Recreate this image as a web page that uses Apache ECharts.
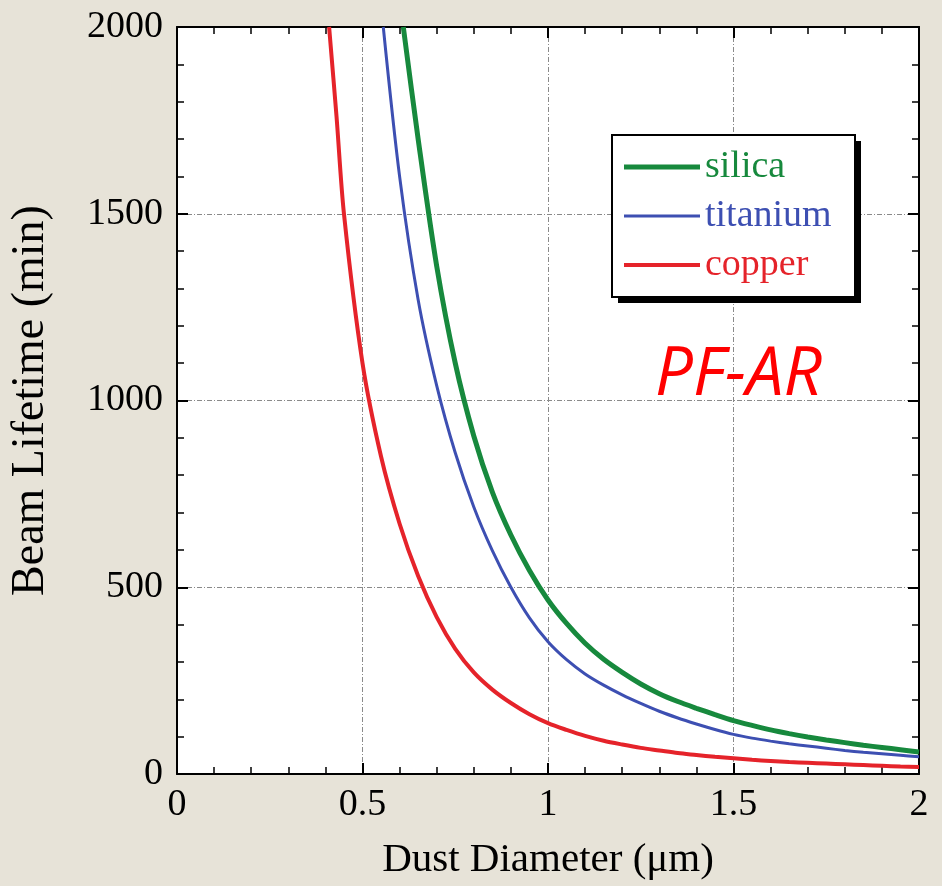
<!DOCTYPE html>
<html>
<head>
<meta charset="utf-8">
<script src="https://cdn.jsdelivr.net/npm/echarts@6/dist/echarts.min.js"></script>
<style>
  html, body { margin: 0; padding: 0; background: #e7e3d8; }
  #chart { width: 942px; height: 886px; }
</style>
</head>
<body>
<div id="chart"></div>
<script>
// values (dust diameter in um, lifetime in min)
const silicaX = [0.61, 0.65, 0.7, 0.75, 0.8, 0.85, 0.9, 0.95, 1.0, 1.05, 1.1, 1.15, 1.2, 1.25, 1.3, 1.35, 1.4, 1.45, 1.5, 1.55, 1.6, 1.65, 1.7, 1.75, 1.8, 1.85, 1.9, 1.95, 2.0];
const silicaY = [2000, 1700, 1360, 1100, 905, 755, 640, 545, 466, 403, 350, 307, 272, 241, 215, 194, 176, 159, 143, 130, 118, 108, 99, 91, 84, 77, 71, 65, 59];

const titaniumX = [0.556, 0.6, 0.65, 0.7, 0.75, 0.8, 0.85, 0.9, 0.95, 1.0, 1.05, 1.1, 1.15, 1.2, 1.25, 1.3, 1.35, 1.4, 1.45, 1.5, 1.55, 1.6, 1.65, 1.7, 1.75, 1.8, 1.85, 1.9, 1.95, 2.0];
const titaniumY = [2000, 1600, 1270, 1040, 860, 715, 598, 500, 418, 354, 306, 268, 238, 212, 189, 168, 150, 134, 119, 106, 96, 88, 81, 75, 69, 63, 58, 54, 50, 46];

const copperX = [0.41, 0.43, 0.45, 0.5, 0.55, 0.6, 0.65, 0.7, 0.75, 0.8, 0.85, 0.9, 0.95, 1.0, 1.05, 1.1, 1.15, 1.2, 1.25, 1.3, 1.35, 1.4, 1.45, 1.5, 1.55, 1.6, 1.65, 1.7, 1.75, 1.8, 1.85, 1.9, 1.95, 2.0];
const copperY = [2000, 1760, 1500, 1100, 850, 670, 530, 420, 335, 272, 226, 190, 160, 136, 118, 102, 89, 79, 70, 63, 56, 51, 46, 42, 38, 35, 32, 30, 28, 26, 24, 22, 20, 19];

const xTicks = [0, 0.5, 1, 1.5, 2];
const yTicks = [0, 500, 1000, 1500, 2000];

const seriesNames = ['silica', 'titanium', 'copper'];
const seriesColors = ['#17893d', '#3d4fb2', '#e5232a'];
const seriesWidths = [5, 3, 4];

const serif = '"Liberation Serif", "DejaVu Serif", serif';

const pairs = (xs, ys) => xs.map((x, i) => [x, ys[i]]);

const chart = echarts.init(document.getElementById('chart'));

const gridLine = {
  show: true,
  lineStyle: { color: '#8a8a8a', width: 1, type: [5, 2, 1, 2] },
};

const baseAxis = {
  axisLine: { show: true, onZero: false, lineStyle: { color: '#000', width: 2 } },
  axisTick: { show: true, inside: true, length: 11, lineStyle: { color: '#000', width: 2 } },
  minorTick: { show: true, splitNumber: 5, length: 7, lineStyle: { color: '#000', width: 1.5 } },
  axisLabel: { color: '#000', fontFamily: serif, fontSize: 38, formatter: (v) => String(v) },
};

// legend frame: black drop shadow + white box
const box = { x: 612, y: 135, w: 243, h: 162 };

chart.setOption({
  backgroundColor: '#e7e3d8',
  animation: false,
  grid: { left: 171, right: 23, top: 27, bottom: 112, backgroundColor: '#fff', show: true, borderWidth: 0 },
  title: {
    text: 'PF-AR',
    left: 650,
    top: 337,
    textStyle: { color: '#ff0000', fontFamily: '"Open Sans", "Liberation Sans", sans-serif', fontStyle: 'italic', fontWeight: 'normal', fontSize: 67 },
  },
  graphic: [
    { type: 'rect', z: 10, shape: { x: box.x + 6, y: box.y + 6, width: box.w, height: box.h }, style: { fill: '#000' } },
    { type: 'rect', z: 11, shape: { x: box.x, y: box.y, width: box.w, height: box.h }, style: { fill: '#fff', stroke: '#000', lineWidth: 2 } },
  ],
  legend: {
    orient: 'vertical',
    left: 612,
    top: 135,
    z: 12,
    padding: [13, 22, 13, 12],
    itemWidth: 76,
    itemHeight: 14,
    itemGap: 11,
    textStyle: { fontFamily: serif, fontSize: 38, lineHeight: 38 },
    data: seriesNames.map((n, i) => ({
      name: n,
      icon: 'path://M0,0L76,0L76,' + seriesWidths[i] + 'L0,' + seriesWidths[i] + 'Z',
      itemStyle: { color: seriesColors[i] },
      textStyle: { color: seriesColors[i] },
    })),
  },
  xAxis: [
    {
      ...baseAxis,
      type: 'value',
      min: xTicks[0],
      max: xTicks[xTicks.length - 1],
      interval: 0.5,
      position: 'bottom',
      axisLabel: { ...baseAxis.axisLabel, margin: 12 },
      splitLine: gridLine,
      name: 'Dust Diameter (\u03bcm)',
      nameLocation: 'middle',
      nameGap: 66,
      nameTextStyle: { color: '#000', fontFamily: serif, fontSize: 41 },
    },
    {
      ...baseAxis,
      type: 'value',
      min: xTicks[0],
      max: xTicks[xTicks.length - 1],
      interval: 0.5,
      position: 'top',
      axisLabel: { show: false },
      splitLine: { show: false },
    },
  ],
  yAxis: [
    {
      ...baseAxis,
      type: 'value',
      min: yTicks[0],
      max: yTicks[yTicks.length - 1],
      interval: 500,
      position: 'left',
      axisLabel: { ...baseAxis.axisLabel, margin: 14 },
      splitLine: gridLine,
      name: 'Beam Lifetime (min)',
      nameLocation: 'middle',
      nameGap: 123,
      nameTextStyle: { color: '#000', fontFamily: serif, fontSize: 46 },
    },
    {
      ...baseAxis,
      type: 'value',
      min: yTicks[0],
      max: yTicks[yTicks.length - 1],
      interval: 500,
      position: 'right',
      axisLabel: { show: false },
      splitLine: { show: false },
    },
  ],
  series: [
    [silicaX, silicaY],
    [titaniumX, titaniumY],
    [copperX, copperY],
  ].map(([xs, ys], i) => ({
    name: seriesNames[i],
    type: 'line',
    data: pairs(xs, ys),
    symbol: 'none',
    smooth: 0.3,
    clip: true,
    z: 5 - i,
    lineStyle: { color: seriesColors[i], width: seriesWidths[i] },
    itemStyle: { color: seriesColors[i] },
  })),
});
</script>
</body>
</html>
